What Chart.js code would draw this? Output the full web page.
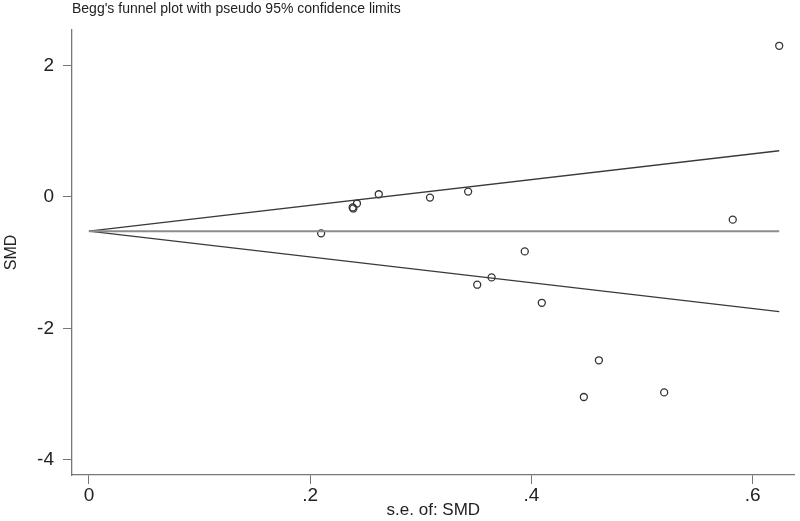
<!DOCTYPE html>
<html>
<head>
<meta charset="utf-8">
<script src="https://cdn.jsdelivr.net/npm/chart.js@4/dist/chart.umd.min.js"></script>
<style>
  html, body { margin: 0; padding: 0; background: #fff; }
  #wrap { width: 800px; height: 521px; position: relative; }
</style>
</head>
<body>
<div id="wrap"><canvas id="funnel"></canvas></div>
<script>
// study standard errors and SMDs
const seValues  = [0.2099, 0.2384, 0.2390, 0.2423, 0.2620, 0.3083, 0.3428, 0.3510,
                   0.3640, 0.3940, 0.4094, 0.4474, 0.4610, 0.5200, 0.5820, 0.6240];
const smdValues = [-0.553, -0.160, -0.175, -0.100, 0.041, -0.010, 0.082, -1.335,
                   -1.224, -0.828, -1.610, -3.043, -2.485, -2.973, -0.345, 2.300];
const pooledSMD = -0.52;
const xTicks = [0, 0.2, 0.4, 0.6];
const xTickLabels = ['0', '.2', '.4', '.6'];
const yTicks = [-4, -2, 0, 2];

const FONT = "'Liberation Sans', Arial, sans-serif";
const seMax = Math.max(...seValues);

const points = seValues.map((se, i) => ({ x: se, y: smdValues[i] }));
const upper = [{ x: 0, y: pooledSMD }, { x: seMax, y: pooledSMD + 1.96 * seMax }];
const lower = [{ x: 0, y: pooledSMD }, { x: seMax, y: pooledSMD - 1.96 * seMax }];
const centre = [{ x: 0, y: pooledSMD }, { x: seMax, y: pooledSMD }];

// title sits at the left edge of the plot, like Stata does it
const titlePlugin = {
    id: 'leftTitle',
    afterDraw(chart) {
        const ctx = chart.ctx;
        ctx.save();
        ctx.font = '14px ' + FONT;
        ctx.fillStyle = '#222';
        ctx.textBaseline = 'middle';
        ctx.textAlign = 'left';
        ctx.fillText("Begg's funnel plot with pseudo 95% confidence limits", chart.chartArea.left, 9);
        ctx.restore();
    }
};

const lineDs = (data, color, width) => ({
    type: 'line',
    data: data,
    borderColor: color,
    borderWidth: width,
    pointRadius: 0,
    fill: false,
    tension: 0
});

new Chart(document.getElementById('funnel'), {
    type: 'scatter',
    data: {
        datasets: [
            lineDs(centre, '#8c8c8c', 2),
            lineDs(upper, '#3a3a3a', 1.3),
            lineDs(lower, '#3a3a3a', 1.3),
            {
                label: 'SMD',
                data: points,
                pointStyle: 'circle',
                pointRadius: 3.5,
                pointBorderWidth: 1.3,
                borderColor: '#333',
                backgroundColor: 'rgba(255,255,255,0)'
            }
        ]
    },
    options: {
        responsive: true,
        maintainAspectRatio: false,
        animation: false,
        layout: { padding: { top: 30, right: 2, left: 0, bottom: 0 } },
        plugins: {
            legend: { display: false },
            tooltip: { enabled: false }
        },
        scales: {
            x: {
                type: 'linear',
                min: -0.0153,
                max: 0.638,
                afterBuildTicks: axis => { axis.ticks = xTicks.map(v => ({ value: v })); },
                afterFit: axis => { axis.height = 46; },
                ticks: {
                    callback: (v) => xTickLabels[xTicks.indexOf(v)],
                    font: { family: FONT, size: 19 },
                    color: '#222',
                    padding: 0,
                    maxRotation: 0
                },
                grid: { drawOnChartArea: false, drawTicks: true, tickLength: 9, color: '#777' },
                border: { display: true, color: '#777', width: 1.3 },
                title: {
                    display: true,
                    text: 's.e. of: SMD',
                    font: { family: FONT, size: 17 },
                    color: '#222',
                    padding: { top: 0, bottom: 0 }
                }
            },
            y: {
                type: 'linear',
                min: -4.23,
                max: 2.54,
                afterBuildTicks: axis => { axis.ticks = yTicks.map(v => ({ value: v })); },
                afterFit: axis => { axis.width = 72; },
                ticks: {
                    font: { family: FONT, size: 19 },
                    color: '#222',
                    padding: 9
                },
                grid: { drawOnChartArea: false, drawTicks: true, tickLength: 9, color: '#777' },
                border: { display: true, color: '#777', width: 1.3 },
                title: {
                    display: true,
                    text: 'SMD',
                    font: { family: FONT, size: 16 },
                    color: '#222',
                    padding: { top: 2, bottom: 0 }
                }
            }
        }
    },
    plugins: [titlePlugin]
});
</script>
</body>
</html>
